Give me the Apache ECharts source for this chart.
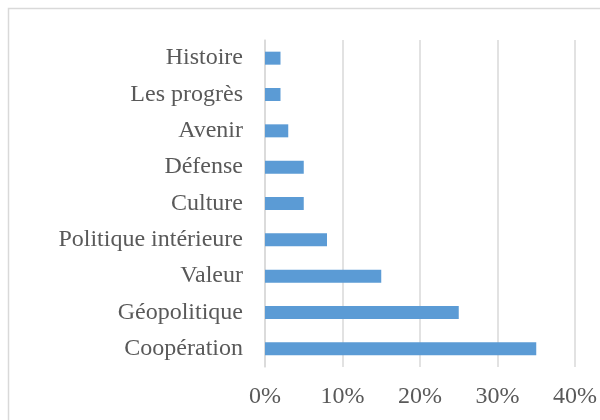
<!DOCTYPE html>
<html>
<head>
<meta charset="utf-8">
<script src="https://cdn.jsdelivr.net/npm/echarts@6/dist/echarts.min.js"></script>
<style>
  html, body { margin: 0; padding: 0; background: #fff; }
  #chart { width: 600px; height: 420px; }
</style>
</head>
<body>
<div id="chart"></div>
<script>
// categories bottom to top
const categories = ["Coopération", "Géopolitique", "Valeur", "Politique intérieure", "Culture", "Défense", "Avenir", "Les progrès", "Histoire"];
const shares = [35, 25, 15, 8, 5, 5, 3, 2, 2];
const xTicks = [0, 10, 20, 30, 40];

const chart = echarts.init(document.getElementById("chart"));
const font = "'Liberation Serif', 'Times New Roman', serif";

chart.setOption({
  animation: false,
  graphic: [{
    type: "rect",
    shape: { x: 8.5, y: 8.5, width: 700, height: 500 },
    style: { fill: "none", stroke: "#d9d9d9", lineWidth: 1.5 }
  }],
  grid: { left: 265, right: 25, top: 40, bottom: 53 },
  xAxis: {
    type: "value",
    min: xTicks[0],
    max: xTicks[xTicks.length - 1],
    interval: 10,
    axisLine: { show: false },
    axisTick: { show: false },
    splitLine: { lineStyle: { color: "#d9d9d9", width: 1.5 } },
    axisLabel: {
      formatter: v => v + "%",
      color: "#595959",
      fontFamily: font,
      fontSize: 24,
      margin: 18
    }
  },
  yAxis: {
    type: "category",
    data: categories,
    axisLine: { lineStyle: { color: "#d9d9d9", width: 1.5 } },
    axisTick: { show: false },
    axisLabel: {
      color: "#595959",
      fontFamily: font,
      fontSize: 24,
      margin: 22
    }
  },
  series: [{
    type: "bar",
    data: shares,
    barWidth: 13,
    itemStyle: { color: "#5b9bd5" }
  }]
});
</script>
</body>
</html>
